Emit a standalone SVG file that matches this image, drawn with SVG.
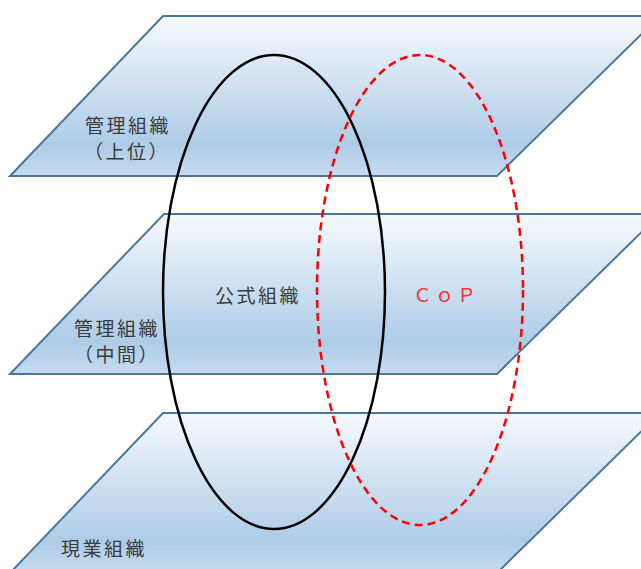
<svg xmlns="http://www.w3.org/2000/svg" width="641" height="569" viewBox="0 0 641 569">
  <defs>
    <linearGradient id="planeFill" x1="0" y1="0" x2="0" y2="1">
      <stop offset="0" stop-color="#f6f9fd"/>
      <stop offset="0.8" stop-color="#aecce7"/>
      <stop offset="1" stop-color="#c6dbef"/>
    </linearGradient>
    <style>
      .plane { fill: url(#planeFill); stroke: #4a76a0; stroke-width: 2; stroke-linejoin: miter; }
      .label { font-family: "Noto Sans CJK JP", "Noto Sans CJK SC", sans-serif; font-size: 19px; fill: #3a3a3a; text-anchor: middle; letter-spacing: 2.5px; }
      .cop { fill: #ff3030; letter-spacing: 3px; }
      .formal { fill: none; stroke: #000000; stroke-width: 2.5; }
      .community { fill: none; stroke: #ff0000; stroke-width: 2.5; stroke-dasharray: 8 5; }
    </style>
  </defs>

  <rect width="641" height="569" fill="#ffffff"/>

  <!-- organisation layers -->
  <g id="layer-top">
    <polygon class="plane" points="163,16 660,16 497,176 10,176"/>
  </g>
  <g id="layer-middle">
    <polygon class="plane" points="164,214 660,214 497,374 10,374"/>
  </g>
  <g id="layer-bottom">
    <polygon class="plane" points="163,413 660,413 497,573 10,573"/>
  </g>

  <!-- overlapping organisation outlines -->
  <g id="connectors">
    <ellipse id="formal-org" class="formal" cx="274" cy="292" rx="111" ry="237"/>
    <ellipse id="cop-org" class="community" cx="420" cy="290" rx="103" ry="235"/>
  </g>

  <!-- labels -->
  <g id="label-top">
    <text class="label" x="128" y="133">管理組織</text>
    <text class="label" x="127" y="159">（上位）</text>
  </g>
  <g id="label-middle">
    <text class="label" x="117" y="336">管理組織</text>
    <text class="label" x="117" y="362">（中間）</text>
  </g>
  <g id="label-formal">
    <text class="label" x="258" y="303">公式組織</text>
  </g>
  <g id="label-cop">
    <text class="label cop" x="446" y="302">ＣｏＰ</text>
  </g>
  <g id="label-bottom">
    <text class="label" x="104" y="556">現業組織</text>
  </g>
</svg>
